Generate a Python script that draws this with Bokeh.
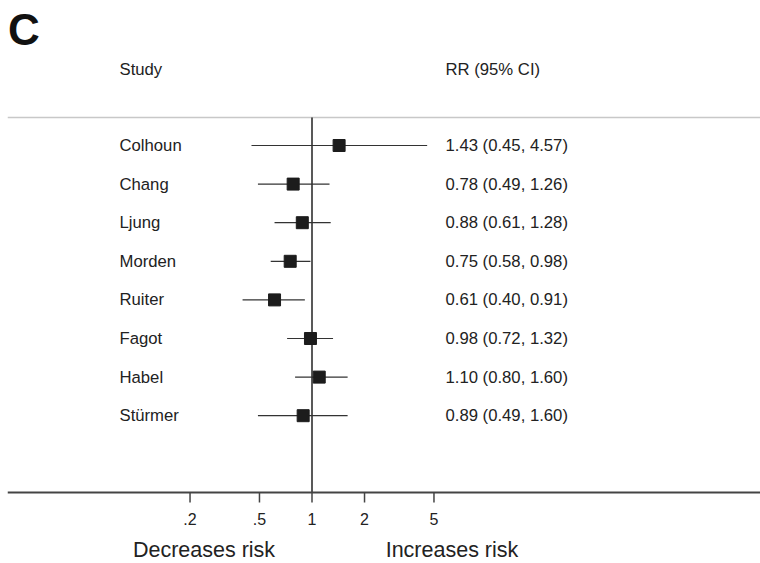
from bokeh.plotting import figure
from bokeh.models import Range1d, ColumnDataSource
from bokeh.core.properties import value
from bokeh.embed import file_html
from bokeh.resources import INLINE

# Study estimates: relative risk with 95% confidence interval
studies = ["Colhoun", "Chang", "Ljung", "Morden", "Ruiter", "Fagot", "Habel", "Stürmer"]
rr = [1.43, 0.78, 0.88, 0.75, 0.61, 0.98, 1.10, 0.89]
ci_low = [0.45, 0.49, 0.61, 0.58, 0.40, 0.72, 0.80, 0.49]
ci_high = [4.57, 1.26, 1.28, 0.98, 0.91, 1.32, 1.60, 1.60]

tick_values = [0.2, 0.5, 1, 2, 5]
tick_labels = [".2", ".5", "1", "2", "5"]

FONT = "Liberation Sans"
INK = "#222222"

rows = list(range(len(studies)))
labels_rr = [f"{r:.2f} ({lo:.2f}, {hi:.2f})" for r, lo, hi in zip(rr, ci_low, ci_high)]

src = ColumnDataSource(dict(study=studies, row=rows, rr=rr, lo=ci_low, hi=ci_high, txt=labels_rr))

# log scale: 1 sits left of centre, about 174.5 px per decade
PX_ONE, PX_DECADE = 311.5, 174.5
def x_at(px):
    return 10 ** ((px - PX_ONE) / PX_DECADE)

x_lo, x_hi = x_at(7), x_at(760)
# vertical layout in row units (38.6 px per row, first study at 145 px)
ROW_PX, ROW0_PX = 38.6, 145.0
def row_at(px):
    return (px - ROW0_PX) / ROW_PX

y_bottom, y_top = row_at(563), row_at(0)

p = figure(width=760, height=563, x_axis_type="log",
           x_range=Range1d(x_lo, x_hi), y_range=Range1d(y_bottom, y_top),
           output_backend="svg", toolbar_location=None,
           min_border_left=7, min_border_right=0, min_border_top=0, min_border_bottom=0,
           x_axis_location=None, y_axis_location=None)
p.outline_line_color = None
p.xgrid.visible = False
p.ygrid.visible = False
p.background_fill_color = "white"
p.border_fill_color = "white"

header_row = row_at(69)
rule_row = row_at(117)
axis_row = row_at(492)
tick_end_row = row_at(502)
tick_label_row = row_at(518)
caption_row = row_at(549)

# separator under the column headers
p.segment(x0=[x_lo], y0=[rule_row], x1=[x_hi], y1=[rule_row], line_color="#c8c8c8", line_width=1.5)
# line of no effect
p.segment(x0=[1], y0=[rule_row], x1=[1], y1=[axis_row], line_color="#222222", line_width=1.5)

# x axis: baseline, ticks and labels on the log scale
p.segment(x0=[x_lo], y0=[axis_row], x1=[x_hi], y1=[axis_row], line_color="#444444", line_width=2)
p.segment(x0=tick_values, y0=[axis_row] * len(tick_values), x1=tick_values,
          y1=[tick_end_row] * len(tick_values), line_color="#444444", line_width=1.5)
p.text(x=tick_values, y=[tick_label_row] * len(tick_values), text=tick_labels,
       text_font=value(FONT), text_font_size="16px", text_color=INK,
       text_baseline="middle", text_align="center")

# confidence intervals and point estimates
p.segment(x0="lo", y0="row", x1="hi", y1="row", source=src, line_color="#333333", line_width=1.2)
p.scatter(x="rr", y="row", source=src, marker="square", size=12,
          fill_color="#1c1c1c", line_color="#1c1c1c")

name_x = x_at(119)
rr_x = x_at(445)

p.text(x=name_x, y="row", text="study", source=src, text_font=value(FONT),
       text_font_size="16.7px", text_color=INK, text_baseline="middle", text_align="left")
p.text(x=rr_x, y="row", text="txt", source=src, text_font=value(FONT),
       text_font_size="16.7px", text_color=INK, text_baseline="middle", text_align="left")

p.text(x=[name_x], y=[header_row], text=["Study"], text_font=value(FONT),
       text_font_size="16.7px", text_color=INK, text_baseline="middle", text_align="left")
p.text(x=[rr_x], y=[header_row], text=["RR (95% CI)"], text_font=value(FONT),
       text_font_size="16.7px", text_color=INK, text_baseline="middle", text_align="left")

# panel letter
p.text(x=[x_at(7.5)], y=[row_at(29)], text=["C"], text_font=value(FONT),
       text_font_size="44px", text_font_style="bold", text_color="#111111",
       text_baseline="middle", text_align="left")

# direction-of-effect captions under the axis
p.text(x=[x_at(203.5), x_at(451.5)], y=[caption_row, caption_row],
       text=["Decreases risk", "Increases risk"], text_font=value(FONT),
       text_font_size="21.5px", text_color=INK, text_baseline="middle", text_align="center")

open("out.html", "w").write(file_html(p, INLINE))
